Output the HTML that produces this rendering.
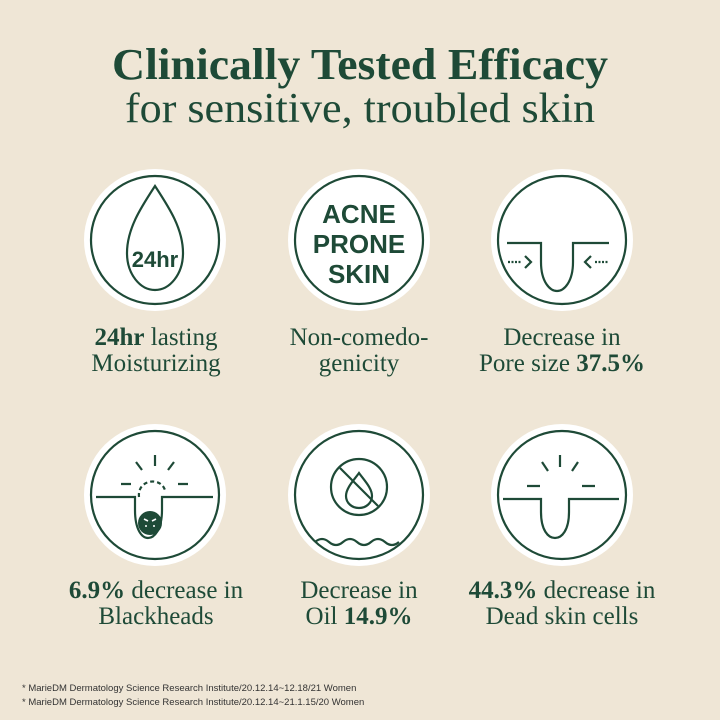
<!DOCTYPE html>
<html><head><meta charset="utf-8"><style>
html,body{margin:0;padding:0;background:#efe6d6;}
svg{display:block}
</style></head><body>
<svg width="720" height="720" viewBox="0 0 720 720" xmlns="http://www.w3.org/2000/svg">
<rect width="720" height="720" fill="#efe6d6"/>
<g fill="#1e4a37" font-family="Liberation Serif, serif">
<text x="360" y="79" text-anchor="middle" font-size="44" font-weight="bold" textLength="496" lengthAdjust="spacingAndGlyphs">Clinically Tested Efficacy</text>
<text x="360" y="122" text-anchor="middle" font-size="42" textLength="470" lengthAdjust="spacingAndGlyphs">for sensitive, troubled skin</text>
</g>
<g fill="#fff">
<circle cx="155" cy="240" r="71"/><circle cx="359" cy="240" r="71"/><circle cx="562" cy="240" r="71"/>
<circle cx="155" cy="495" r="71"/><circle cx="359" cy="495" r="71"/><circle cx="562" cy="495" r="71"/>
</g>
<g fill="none" stroke="#1e4a37" stroke-width="2.2">
<circle cx="155" cy="240" r="64"/><circle cx="359" cy="240" r="64"/><circle cx="562" cy="240" r="64"/>
<circle cx="155" cy="495" r="64"/><circle cx="359" cy="495" r="64"/><circle cx="562" cy="495" r="64"/>
<path d="M155 186 C142 206 127 228 127 253 C127 274 140 290 155 290 C170 290 183 274 183 253 C183 228 168 206 155 186 Z"/>
<path d="M507 243 H541 V262 C541 282 550 291 557 291 C564 291 573 282 573 262 V243 H609"/>
<path d="M508 262 H521 M595 262 H608" stroke-dasharray="2 1.5"/>
<path d="M525 256 L531 262 L525 268 M591 256 L585 262 L591 268"/>
<path d="M96 497 H135 V510 C135 530 142 538 148 538 C154 538 162 530 162 510 V497 H213"/>
<path d="M139 497 C137 480 160 476 165 490" stroke-dasharray="4 3"/>
<path d="M155 455 V466 M136 462 L142 470 M174 462 L168 470 M121 484 H131 M178 484 H188"/>
<circle cx="359" cy="487" r="28"/>
<path d="M340 468 L378 506"/>
<path d="M359 473 C354 480 346 488 346 496 C346 503 352 508 359 508 C366 508 372 503 372 496 C372 488 364 480 359 473Z"/>
<path d="M315 542 q7 -6 14 0 t14 0 t14 0 t14 0 t14 0 t14 0"/>
<path d="M503 499 H541 V512 C541 530 548 538 555 538 C562 538 569 530 569 512 V499 H619"/>
<path d="M560 455 V467 M542 462 L548 471 M578 462 L572 471 M527 486 H540 M582 486 H595"/>
</g>
<circle cx="150" cy="523" r="12" fill="#1e4a37"/>
<path d="M144 519 l4 2 M156 519 l-4 2 M145 526 h2 M153 526 h2" stroke="#fff" stroke-width="1.6"/>
<g fill="#1e4a37" font-family="Liberation Sans, sans-serif" font-weight="bold" text-anchor="middle">
<text x="155" y="267" font-size="22">24hr</text>
<text x="359" y="223" font-size="26">ACNE</text>
<text x="359" y="253" font-size="26">PRONE</text>
<text x="359" y="283" font-size="26">SKIN</text>
</g>
<g fill="#1e4a37" font-family="Liberation Serif, serif" font-size="25" text-anchor="middle">
<text x="156" y="345"><tspan font-weight="bold">24hr</tspan> lasting</text>
<text x="156" y="371">Moisturizing</text>
<text x="359" y="345">Non-comedo-</text>
<text x="359" y="371">genicity</text>
<text x="562" y="345">Decrease in</text>
<text x="562" y="371">Pore size <tspan font-weight="bold">37.5%</tspan></text>
<text x="156" y="598"><tspan font-weight="bold">6.9%</tspan> decrease in</text>
<text x="156" y="624">Blackheads</text>
<text x="359" y="598">Decrease in</text>
<text x="359" y="624">Oil <tspan font-weight="bold">14.9%</tspan></text>
<text x="562" y="598"><tspan font-weight="bold">44.3%</tspan> decrease in</text>
<text x="562" y="624">Dead skin cells</text>
</g>
<g fill="#333" font-family="Liberation Sans, sans-serif" font-size="9.5">
<text x="22" y="691">* MarieDM Dermatology Science Research Institute/20.12.14~12.18/21 Women</text>
<text x="22" y="705">* MarieDM Dermatology Science Research Institute/20.12.14~21.1.15/20 Women</text>
</g>
</svg>
</body></html>
